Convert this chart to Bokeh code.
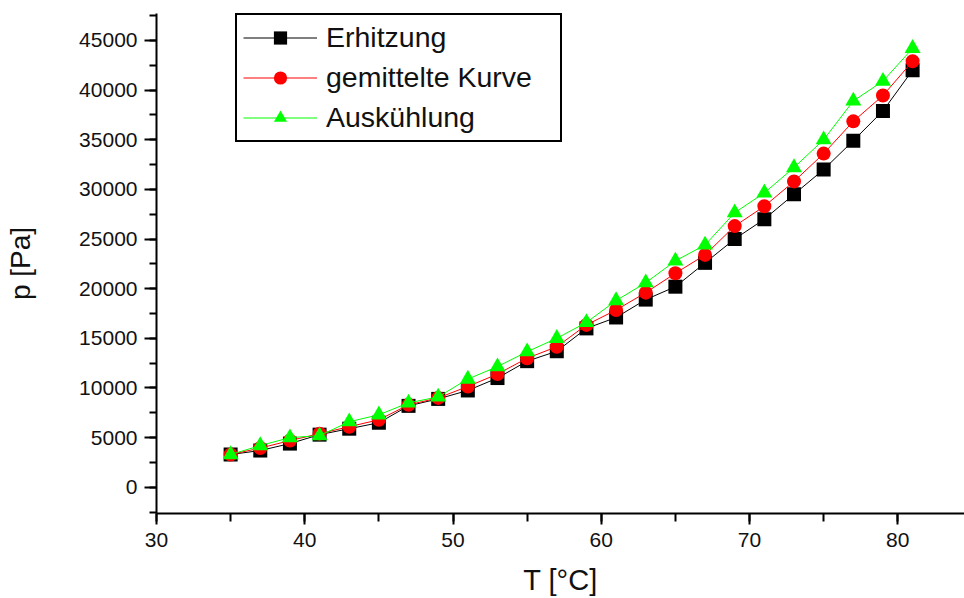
from bokeh.plotting import figure
from bokeh.models import Legend, LegendItem, SingleIntervalTicker, Range1d
from bokeh.embed import file_html
from bokeh.resources import INLINE

# ---- data ----
temperature = [35, 37, 39, 41, 43, 45, 47, 49, 51, 53, 55, 57,
               59, 61, 63, 65, 67, 69, 71, 73, 75, 77, 79, 81]
erhitzung = [3300, 3700, 4400, 5300, 5900, 6500, 8200, 8900, 9750, 11000, 12700, 13700,
             16000, 17100, 18900, 20200, 22600, 25000, 27000, 29500, 32000, 34900, 37900, 42000]
gemittelt = [3300, 3950, 4700, 5400, 6100, 6800, 8300, 9000, 10150, 11400, 13000, 14150,
             16350, 17850, 19600, 21550, 23400, 26300, 28300, 30800, 33600, 36850, 39450, 42900]
auskuehlung = [3300, 4200, 5000, 5200, 6600, 7300, 8500, 9100, 10900, 12150, 13650, 15000,
               16600, 18800, 20600, 22800, 24400, 27650, 29650, 32200, 35000, 38900, 40900, 44200]
series_labels = ["Erhitzung", "gemittelte Kurve", "Auskühlung"]
x_label = "T [°C]"
y_label = "p [Pa]"

FONT = "Liberation Sans"

p = figure(width=964, height=598, output_backend="svg", toolbar_location=None,
           x_range=Range1d(30, 84.5), y_range=Range1d(-2640, 47710),
           min_border_left=156, min_border_right=0, min_border_top=13, min_border_bottom=84)
p.outline_line_color = None
p.grid.visible = False
p.background_fill_color = "white"
p.border_fill_color = "white"

p.xaxis.ticker = SingleIntervalTicker(interval=10, num_minor_ticks=2)
p.yaxis.ticker = SingleIntervalTicker(interval=5000, num_minor_ticks=2)

for ax in (p.xaxis, p.yaxis):
    ax.axis_line_width = 2
    ax.axis_line_color = "black"
    ax.major_tick_line_width = 2
    ax.minor_tick_line_width = 2
    ax.major_tick_line_color = "black"
    ax.minor_tick_line_color = "black"
    ax.major_tick_in = 0
    ax.minor_tick_in = 0
    ax.major_label_text_font = FONT
    ax.major_label_text_font_size = "21px"
    ax.major_label_text_color = "#111111"
    ax.axis_label_text_font = FONT
    ax.axis_label_text_font_style = "normal"
    ax.axis_label_text_color = "#111111"

p.xaxis.major_tick_out = 11
p.xaxis.minor_tick_out = 8
p.xaxis.major_label_standoff = 8
p.xaxis.axis_label = x_label
p.xaxis.axis_label_text_font_size = "29px"
p.xaxis.axis_label_standoff = 14

p.yaxis.major_tick_out = 12
p.yaxis.minor_tick_out = 7
p.yaxis.major_label_standoff = 7
p.yaxis.axis_label = y_label
p.yaxis.axis_label_text_font_size = "28px"
p.yaxis.axis_label_standoff = 40

l1 = p.line(temperature, erhitzung, line_color="black", line_width=1)
s1 = p.scatter(temperature, erhitzung, marker="square", size=14,
               fill_color="black", line_color="black", line_width=0)
l2 = p.line(temperature, gemittelt, line_color="#FF0000", line_width=1)
s2 = p.scatter(temperature, gemittelt, marker="circle", size=14,
               fill_color="#FF0000", line_color="#FF0000", line_width=0)
l3 = p.line(temperature, auskuehlung, line_color="#00FF00", line_width=1)
s3 = p.scatter(temperature, auskuehlung, marker="triangle", size=16,
               fill_color="#00FF00", line_color="#00FF00", line_width=0)

legend = Legend(items=[
    LegendItem(label=series_labels[0], renderers=[l1, s1]),
    LegendItem(label=series_labels[1], renderers=[l2, s2]),
    LegendItem(label=series_labels[2], renderers=[l3, s3]),
], location=(79, 371))
legend.border_line_color = "black"
legend.border_line_alpha = 1
legend.border_line_width = 2
legend.background_fill_color = "white"
legend.background_fill_alpha = 1
legend.padding = 6
legend.spacing = 7
legend.glyph_width = 74
legend.glyph_height = 33
legend.label_height = 33
legend.label_width = 228
legend.label_standoff = 9
legend.label_text_font = FONT
legend.label_text_font_size = "28.5px"
legend.label_text_color = "#111111"
legend.margin = 0
p.add_layout(legend, "center")

open("out.html", "w").write(file_html(p, INLINE))
